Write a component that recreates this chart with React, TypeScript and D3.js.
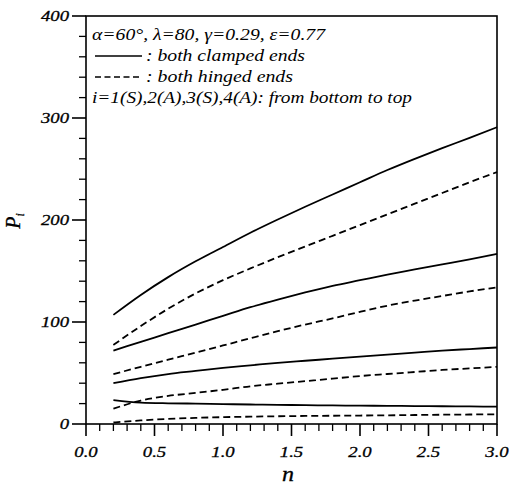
import React from "react";
import * as d3 from "d3";

const nValues = [0.2, 0.4, 0.6, 0.8, 1.0, 1.2, 1.4, 1.6, 1.8, 2.0, 2.2, 2.4, 2.6, 2.8, 3.0];

// both clamped ends (solid), i = 1..4
const clamped1 = [23.5, 21, 20.3, 20, 19.5, 19.1, 18.8, 18.5, 18.2, 18, 17.8, 17.6, 17.4, 17.2, 17];
const clamped2 = [40, 45, 49, 52, 55, 57.5, 60, 62, 64, 66, 68, 70, 72, 73.5, 75];
const clamped3 = [72, 80.5, 89, 97.5, 106, 114.5, 122, 129, 135.5, 141, 146.5, 151.5, 156.5, 161.5, 166.7];
const clamped4 = [107, 126.5, 144, 159.5, 173.5, 187.5, 200.5, 213, 225, 237, 249, 260, 270.5, 280.5, 291];

// both hinged ends (dashed), i = 1..4
const hinged1 = [1.5, 3.5, 5, 6, 6.7, 7.2, 7.6, 7.9, 8.1, 8.3, 8.5, 8.8, 9.1, 9.3, 9.5];
const hinged2 = [15, 23, 27.5, 30.5, 33.5, 37, 39.5, 42, 44.5, 47, 49, 51, 53, 54.5, 56];
const hinged3 = [49, 56, 63, 70, 77, 84, 91, 97.5, 103.5, 110, 116, 121, 125.5, 130, 134];
const hinged4 = [77.5, 96, 113, 128, 141, 152.5, 163.5, 174, 184.5, 195, 205.5, 216, 226.5, 237, 247];

const xTicks = [0, 0.5, 1.0, 1.5, 2.0, 2.5, 3.0];
const yTicks = [0, 100, 200, 300, 400];

const legendLines = [
  "α=60°, λ=80, γ=0.29, ε=0.77",
  ": both clamped ends",
  ": both hinged ends",
  "i=1(S),2(A),3(S),4(A): from bottom to top",
];

const W = 512;
const H = 486;
const left = 86;
const right = 497;
const top = 16;
const bottom = 424;
const tstyle: React.CSSProperties = { fontFamily: "Liberation Serif", fontStyle: "italic" };

export default function App() {
  const x = d3.scaleLinear().domain([0, 3]).range([left, right]);
  const y = d3.scaleLinear().domain([0, 400]).range([bottom, top]);
  const line = d3
    .line<number>()
    .x((_, i) => x(nValues[i]))
    .y((d) => y(d))
    .curve(d3.curveMonotoneX);

  const solid = [clamped1, clamped2, clamped3, clamped4];
  const dashed = [hinged1, hinged2, hinged3, hinged4];
  const xMinor = d3.range(0, 31).map((k) => k / 10).filter((v) => Math.abs(v * 2 - Math.round(v * 2)) > 1e-6);
  const yMinor = d3.range(0, 401, 20).filter((v) => v % 100 !== 0);

  return (
    <svg width={W} height={H} style={{ position: "absolute", left: 0, top: 0, background: "#fff" }}>
      <rect x={0} y={0} width={W} height={H} fill="#fff" />
      {/* frame */}
      <rect x={left} y={y(400)} width={right - left} height={bottom - y(400)} fill="none" stroke="#000" strokeWidth={1.6} />
      {/* x ticks */}
      {xTicks.map((t) => (
        <g key={"xt" + t}>
          <line x1={x(t)} x2={x(t)} y1={bottom} y2={bottom + 12} stroke="#000" strokeWidth={1.6} />
          <text transform={`translate(${x(t)},457) scale(1.25,1)`} textAnchor="middle" fontSize={15} style={tstyle} stroke="#000" strokeWidth={0.3}>
            {t.toFixed(1)}
          </text>
        </g>
      ))}
      {xMinor.map((t) => (
        <line key={"xm" + t} x1={x(t)} x2={x(t)} y1={bottom} y2={bottom + 7} stroke="#000" strokeWidth={1.3} />
      ))}
      {/* y ticks */}
      {yTicks.map((t) => (
        <g key={"yt" + t}>
          <line x1={left - 14} x2={left} y1={y(t)} y2={y(t)} stroke="#000" strokeWidth={1.6} />
          <text transform={`translate(${left - 17},${y(t)}) scale(1.25,1)`} dy="0.35em" textAnchor="end" fontSize={15} style={tstyle} stroke="#000" strokeWidth={0.3}>
            {t}
          </text>
        </g>
      ))}
      {yMinor.map((t) => (
        <line key={"ym" + t} x1={left - 7} x2={left} y1={y(t)} y2={y(t)} stroke="#000" strokeWidth={1.3} />
      ))}
      {/* axis labels */}
      <text transform="translate(288,481) scale(1.2,1)" textAnchor="middle" fontSize={20} style={tstyle} stroke="#000" strokeWidth={0.3}>
        n
      </text>
      <g transform="translate(20,221) rotate(-90)">
        <text x={0} y={0} textAnchor="middle" fontSize={20} style={tstyle} stroke="#000" strokeWidth={0.3}>
          P<tspan fontSize={12} dy={4}>i</tspan>
        </text>
      </g>
      {/* curves */}
      {solid.map((s, i) => (
        <path key={"s" + i} d={line(s) || ""} fill="none" stroke="#000" strokeWidth={1.8} />
      ))}
      {dashed.map((s, i) => (
        <path key={"h" + i} d={line(s) || ""} fill="none" stroke="#000" strokeWidth={1.8} strokeDasharray="7,4" />
      ))}
      {/* legend */}
      <text x={92} y={40} fontSize={16} style={tstyle} textLength={233} lengthAdjust="spacingAndGlyphs">{legendLines[0]}</text>
      <line x1={95} x2={142} y1={56} y2={56} stroke="#000" strokeWidth={1.6} />
      <text x={146} y={60.5} fontSize={16} style={tstyle} textLength={159} lengthAdjust="spacingAndGlyphs">{legendLines[1]}</text>
      <line x1={95} x2={142} y1={77} y2={77} stroke="#000" strokeWidth={1.6} strokeDasharray="6,3.5" />
      <text x={146} y={81.5} fontSize={16} style={tstyle} textLength={147} lengthAdjust="spacingAndGlyphs">{legendLines[2]}</text>
      <text x={92} y={103} fontSize={16} style={tstyle} textLength={320} lengthAdjust="spacingAndGlyphs">{legendLines[3]}</text>
    </svg>
  );
}
